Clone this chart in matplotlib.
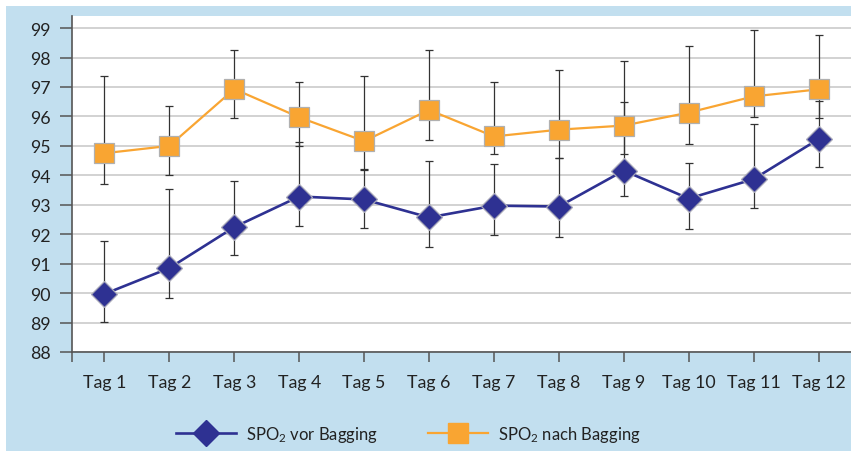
import matplotlib
matplotlib.use("Agg")
import matplotlib.pyplot as plt
from matplotlib.lines import Line2D
from matplotlib.patches import Rectangle
import numpy as np

FONT = 'Lato'
plt.rcParams['font.family'] = [FONT, 'DejaVu Sans']
plt.rcParams['mathtext.fontset'] = 'custom'
plt.rcParams['mathtext.rm'] = FONT

tags = ["Tag 1", "Tag 2", "Tag 3", "Tag 4", "Tag 5", "Tag 6",
        "Tag 7", "Tag 8", "Tag 9", "Tag 10", "Tag 11", "Tag 12"]
vor = [89.97, 90.85, 92.24, 93.28, 93.18, 92.57, 92.97, 92.94, 94.16, 93.21, 93.87, 95.23]
vor_upper = [91.78, 93.55, 93.82, 95.12, 94.20, 94.50, 94.38, 94.60, 96.49, 94.43, 95.75, 96.53]
vor_lower = [89.01, 89.83, 91.30, 92.27, 92.20, 91.57, 91.98, 91.90, 93.29, 92.19, 92.90, 94.29]
nach = [94.75, 95.00, 96.93, 95.97, 95.16, 96.22, 95.32, 95.55, 95.69, 96.13, 96.68, 96.92]
nach_upper = [97.36, 96.35, 98.27, 97.18, 97.36, 98.25, 97.16, 97.59, 97.87, 98.40, 98.94, 98.78]
nach_lower = [93.70, 94.02, 95.95, 95.00, 94.19, 95.20, 94.72, 94.58, 94.72, 95.06, 95.99, 95.93]
yticks = list(range(88, 100))
label_vor = r"$\mathregular{SPO_2}$ vor Bagging"
label_nach = r"$\mathregular{SPO_2}$ nach Bagging"

BLUE = '#2E3192'
ORANGE = '#F9A532'
BG = '#C2DFEF'
TXT = '#222222'
AX = '#555555'
FS = 12.8

W, H = 851, 452
fig = plt.figure(figsize=(W / 100, H / 100), dpi=100)
fig.patch.set_facecolor('white')
fig.patches.append(Rectangle((6 / W, 0), 1 - 6 / W, (H - 7) / H,
                             transform=fig.transFigure, facecolor=BG,
                             edgecolor='none', zorder=-10))

ax = fig.add_axes([72 / W, (H - 353) / H, 1 - 72 / W, (353 - 17) / H])
ax.set_facecolor('white')

x = np.arange(len(tags))
v = np.array(vor); n = np.array(nach)
vyerr = [v - np.array(vor_lower), np.array(vor_upper) - v]
nyerr = [n - np.array(nach_lower), np.array(nach_upper) - n]

ax.errorbar(x, v, yerr=vyerr, fmt='none', ecolor='#333333', elinewidth=0.9,
            capsize=2.6, capthick=0.9, zorder=2)
ax.errorbar(x, n, yerr=nyerr, fmt='none', ecolor='#333333', elinewidth=0.9,
            capsize=2.6, capthick=0.9, zorder=2)
ax.plot(x, v, color=BLUE, lw=1.9, marker='D', ms=13.5, mfc=BLUE,
        mec='#a8a8b8', mew=0.9, zorder=4)
ax.plot(x, n, color=ORANGE, lw=1.6, marker='s', ms=14.5, mfc=ORANGE,
        mec='#b0b0b0', mew=0.9, zorder=5)

ax.set_xlim(-0.5, 11.5)
ax.set_ylim(88, 99.41)
ax.set_yticks(yticks)
ax.set_yticklabels([str(t) for t in yticks])
ax.set_xticks(x)
ax.set_xticklabels(tags)
ax.set_xticks([-0.5], minor=True)
ax.yaxis.grid(True, color='#cfcfcf', lw=1.3)
ax.set_axisbelow(True)
for s in ['top', 'right']:
    ax.spines[s].set_visible(False)
for s in ['left', 'bottom']:
    ax.spines[s].set_color(AX)
    ax.spines[s].set_linewidth(1.2)
ax.tick_params(axis='y', direction='out', length=8.5, width=1.1, color=AX,
               labelsize=FS, labelcolor=TXT, pad=7)
ax.tick_params(axis='x', which='both', direction='out', length=7, width=1.1,
               color=AX, labelsize=FS, labelcolor=TXT, pad=9)

handles = [Line2D([], [], color=BLUE, lw=1.9, marker='D', ms=13.5, mfc=BLUE,
                  mec=BLUE),
           Line2D([], [], color=ORANGE, lw=1.6, marker='s', ms=14.5, mfc=ORANGE,
                  mec=ORANGE)]
fig.legend(handles, [label_vor, label_nach], loc='center',
           bbox_to_anchor=(408.5 / W, (H - 435) / H), ncol=2, frameon=False,
           fontsize=12, handlelength=3.6, handletextpad=0.6,
           columnspacing=3.0, labelcolor=TXT)

fig.savefig('out.png', dpi=100, facecolor=fig.get_facecolor())
